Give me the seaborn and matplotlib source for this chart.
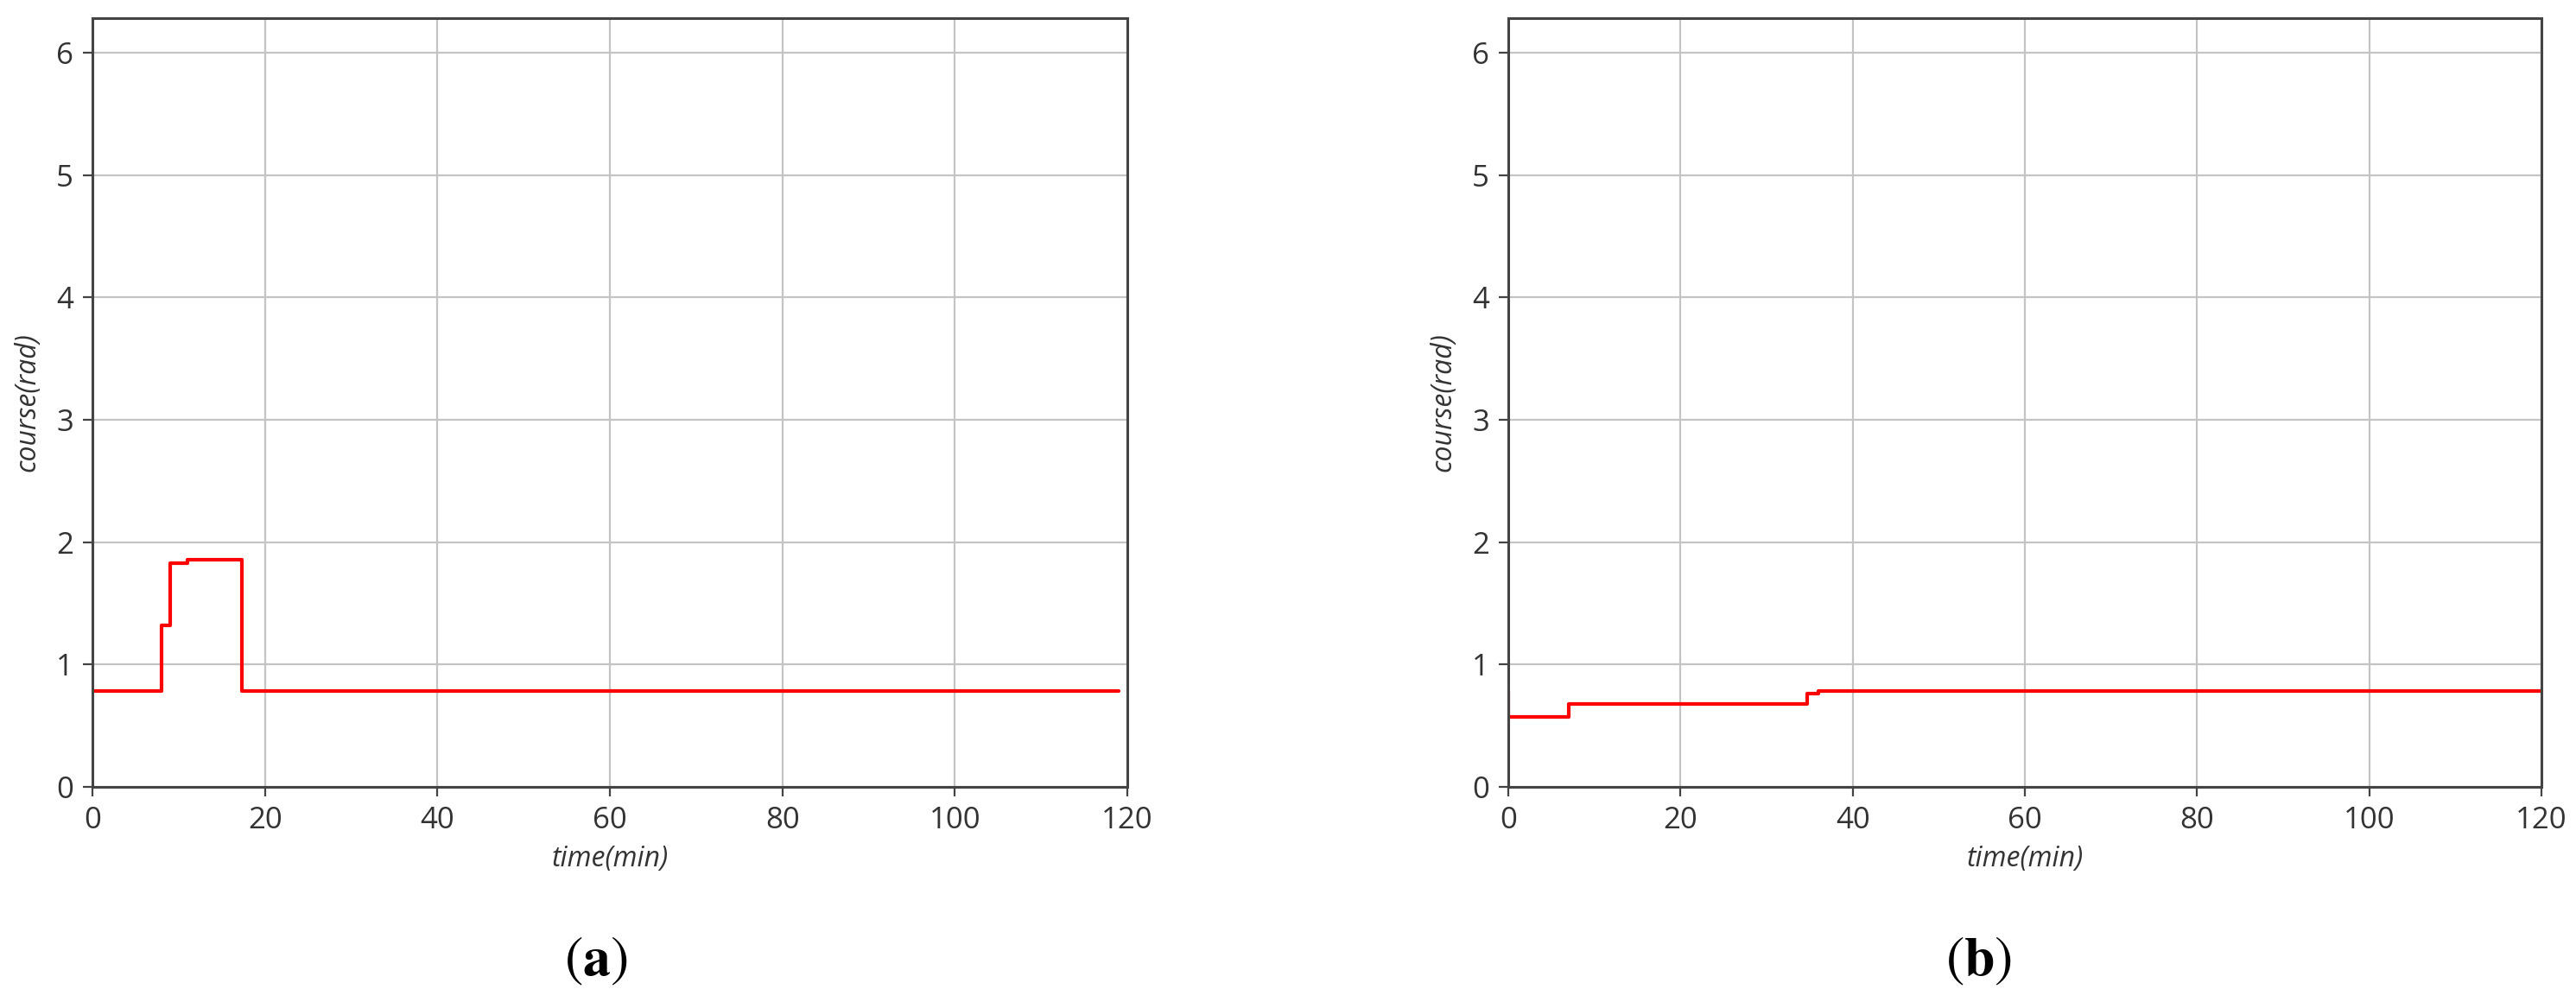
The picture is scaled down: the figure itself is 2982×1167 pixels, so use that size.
import numpy as np
import pandas as pd
import matplotlib
matplotlib.use("Agg")
import matplotlib.pyplot as plt
import seaborn as sns

# 航向データ (a)
time_a = [0, 8, 9, 11, 17.3, 119]
course_a = [0.785, 1.32, 1.83, 1.86, 0.785, 0.785]
# 航向データ (b)
time_b = [0, 0, 7, 34.7, 36, 120]
course_b = [0.785, 0.575, 0.675, 0.765, 0.785, 0.785]

x_ticks = [0, 20, 40, 60, 80, 100, 120]
y_ticks = [0, 1, 2, 3, 4, 5, 6]
panel_labels = ["a", "b"]

sns.set_style("white")
plt.rcParams["font.family"] = ["Open Sans", "DejaVu Sans"]

fig = plt.figure(figsize=(29.82, 11.67), dpi=100)
ax1 = fig.add_axes([0.0359, 0.2194, 0.4017, 0.7626])
ax2 = fig.add_axes([0.5855, 0.2194, 0.4011, 0.7626])

for ax, t, c, lab, cx in [(ax1, time_a, course_a, panel_labels[0], 0.2314),
                          (ax2, time_b, course_b, panel_labels[1], 0.768)]:
    df = pd.DataFrame({"time": t, "course": c})
    sns.lineplot(data=df, x="time", y="course", ax=ax, color="#ff0000",
                 linewidth=3, estimator=None, sort=False,
                 drawstyle="steps-post")
    ax.set_xlim(0, 120)
    ax.set_ylim(0, 2 * np.pi)
    ax.set_xticks(x_ticks)
    ax.set_yticks(y_ticks)
    ax.grid(True, color="#c4c4c4", linewidth=1.6)
    ax.set_axisbelow(True)
    for s in ax.spines.values():
        s.set_color("#444444")
        s.set_linewidth(2.2)
    ax.tick_params(axis="both", which="major", length=8, width=1.6,
                   color="#444444", labelsize=25, labelcolor="#333333",
                   pad=8, bottom=True, left=True)
    ax.set_xlabel("time(min)", fontsize=23, fontstyle="italic",
                  color="#333333", labelpad=8)
    ax.set_ylabel("course(rad)", fontsize=23, fontstyle="italic",
                  color="#333333", labelpad=12)
    fig.text(cx, 0.047, r"$(\mathbf{" + lab + r"})$", math_fontfamily="stix",
             fontsize=46, ha="center", va="center", color="black")

fig.savefig("out.png", dpi=100)
